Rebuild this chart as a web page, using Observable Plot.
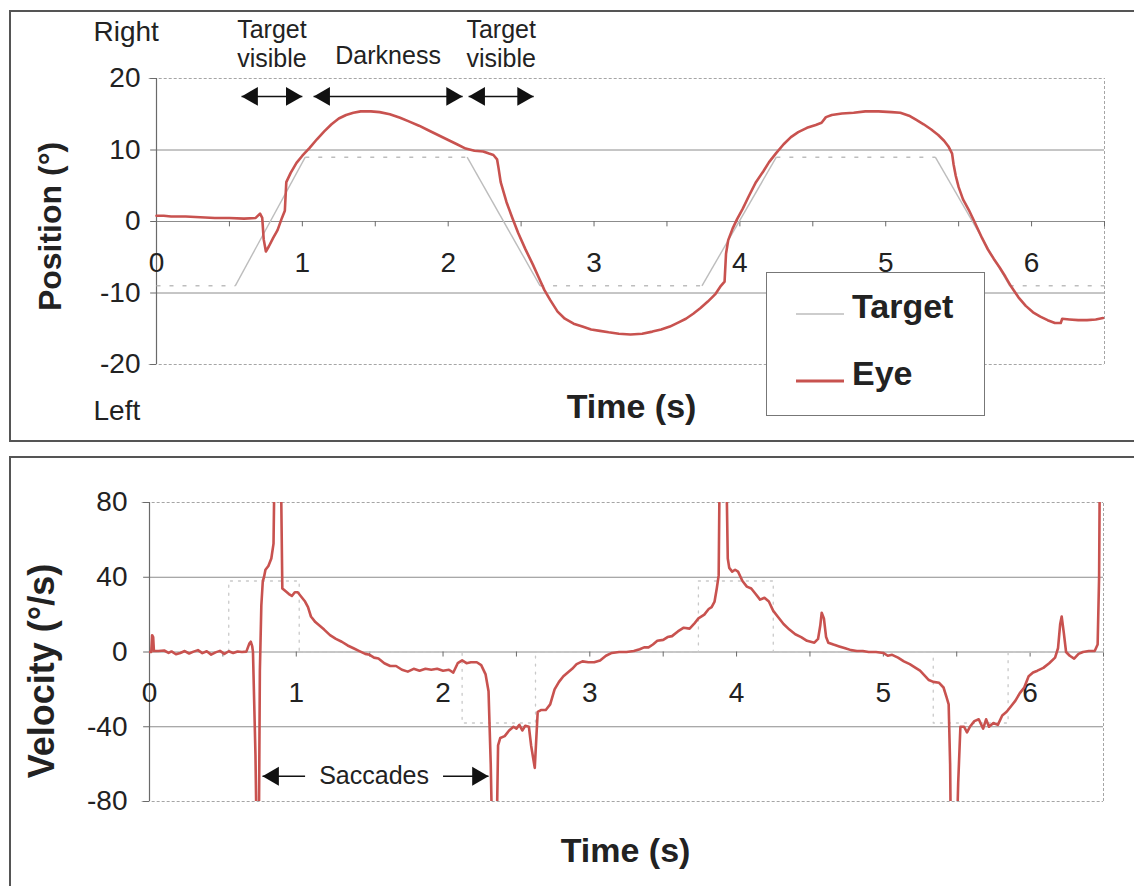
<!DOCTYPE html>
<html><head><meta charset="utf-8">
<script src="https://cdn.jsdelivr.net/npm/d3@7"></script>
<script src="https://cdn.jsdelivr.net/npm/@observablehq/plot@0.6"></script>
<style>
body{margin:0;background:#fff;}
#page{position:relative;width:1134px;height:886px;overflow:hidden;background:#fff;font-family:"Liberation Sans",Arial,sans-serif;color:#222;}
.box{position:absolute;border:2px solid #555;box-sizing:border-box;}
#top,#bot{position:absolute;left:0;}
#top{top:0;}
#bot{top:445px;}
#legend{position:absolute;left:766px;top:272px;width:219px;height:144px;border:1px solid #777;background:#fff;box-sizing:border-box;}
#legend svg{position:absolute;left:0;top:0;}
</style></head><body>
<div id="page">
  <div class="box" style="left:9px;top:10px;width:1140px;height:432px"></div>
  <div class="box" style="left:9px;top:456px;width:1140px;height:450px"></div>
  <div id="top"></div>
  <div id="bot"></div>
  <div id="legend"></div>
</div>
<script>
// ---------- data ----------
const eyeTime = [0.00,0.05,0.10,0.20,0.30,0.40,0.50,0.60,0.68,0.71,0.725,0.735,0.75,0.77,0.80,0.83,0.86,0.88,0.89,0.92,0.96,1.00,1.05,1.10,1.15,1.20,1.25,1.30,1.35,1.40,1.47,1.53,1.60,1.67,1.73,1.80,1.86,1.93,2.00,2.06,2.12,2.18,2.24,2.28,2.31,2.335,2.345,2.36,2.40,2.44,2.48,2.53,2.58,2.62,2.66,2.70,2.75,2.80,2.86,2.92,2.98,3.04,3.10,3.17,3.25,3.33,3.40,3.46,3.52,3.58,3.63,3.68,3.73,3.78,3.83,3.87,3.895,3.905,3.92,3.95,3.98,4.02,4.06,4.11,4.16,4.20,4.25,4.30,4.35,4.40,4.46,4.52,4.56,4.59,4.63,4.70,4.78,4.86,4.95,5.04,5.10,5.16,5.21,5.26,5.31,5.36,5.40,5.43,5.455,5.465,5.48,5.50,5.53,5.57,5.61,5.66,5.70,5.74,5.78,5.82,5.86,5.91,5.96,6.01,6.06,6.11,6.16,6.20,6.21,6.26,6.32,6.38,6.44,6.49];
const eyePosition = [0.8,0.8,0.7,0.7,0.6,0.5,0.5,0.4,0.5,1.1,0.5,-2.5,-4.2,-3.5,-2.3,-1.2,0.5,1.5,5.5,6.8,8.2,9.2,10.3,11.5,12.6,13.6,14.4,14.9,15.2,15.4,15.4,15.3,15.0,14.5,14.0,13.4,12.8,12.1,11.4,10.8,10.2,9.9,9.8,9.5,9.3,8.7,7.5,5.5,2.7,0.5,-1.6,-3.9,-6.0,-7.8,-9.6,-11.0,-12.6,-13.6,-14.3,-14.7,-15.1,-15.3,-15.5,-15.7,-15.8,-15.7,-15.4,-15.1,-14.7,-14.1,-13.6,-12.9,-12.1,-11.2,-10.2,-9.0,-8.4,-4.5,-2.6,-1.0,0.3,1.8,3.5,5.5,7.0,8.3,9.6,10.8,11.8,12.5,13.1,13.5,13.8,14.6,14.9,15.1,15.2,15.4,15.4,15.3,15.2,14.8,14.2,13.6,12.9,12.1,11.3,10.5,9.5,8.0,6.4,4.8,3.1,1.6,-0.1,-2.3,-3.9,-5.2,-6.4,-7.7,-9.1,-10.6,-11.8,-12.7,-13.3,-13.8,-14.2,-14.2,-13.6,-13.7,-13.8,-13.8,-13.7,-13.5];

const targetTime = [0, 0.54, 1.02, 2.13, 2.63, 3.74, 4.25, 5.34, 5.85, 6.5];
const targetPosition = [-9, -9, 9, 9, -9, -9, 9, 9, -9, -9];

const eyeVelTime = [0.00,0.012,0.018,0.025,0.03,0.06,0.10,0.13,0.15,0.18,0.21,0.24,0.27,0.30,0.33,0.36,0.39,0.42,0.45,0.48,0.51,0.54,0.57,0.60,0.63,0.66,0.68,0.69,0.70,0.705,0.722,0.73,0.745,0.752,0.762,0.772,0.78,0.79,0.81,0.83,0.845,0.852,0.895,0.905,0.92,0.95,0.97,0.99,1.01,1.03,1.06,1.08,1.10,1.13,1.16,1.19,1.23,1.27,1.31,1.35,1.39,1.43,1.47,1.50,1.53,1.56,1.60,1.64,1.68,1.72,1.76,1.80,1.84,1.88,1.92,1.96,2.00,2.04,2.07,2.10,2.13,2.16,2.19,2.23,2.26,2.29,2.31,2.325,2.335,2.365,2.375,2.39,2.42,2.45,2.48,2.50,2.52,2.54,2.56,2.585,2.60,2.625,2.645,2.67,2.70,2.73,2.76,2.79,2.82,2.85,2.88,2.91,2.95,2.99,3.03,3.07,3.11,3.15,3.20,3.25,3.30,3.34,3.37,3.40,3.43,3.46,3.50,3.53,3.56,3.60,3.64,3.68,3.71,3.74,3.78,3.81,3.83,3.85,3.865,3.878,3.885,3.93,3.94,3.95,3.97,3.99,4.01,4.04,4.07,4.10,4.13,4.16,4.19,4.22,4.25,4.28,4.32,4.36,4.40,4.44,4.48,4.53,4.555,4.57,4.58,4.595,4.61,4.625,4.66,4.70,4.74,4.78,4.82,4.86,4.90,4.95,5.00,5.03,5.06,5.10,5.14,5.18,5.22,5.25,5.28,5.31,5.34,5.38,5.41,5.43,5.445,5.455,5.46,5.50,5.51,5.525,5.55,5.57,5.59,5.62,5.65,5.68,5.70,5.72,5.75,5.78,5.81,5.84,5.87,5.90,5.93,5.96,5.99,6.02,6.05,6.09,6.13,6.17,6.19,6.205,6.215,6.23,6.245,6.27,6.30,6.33,6.36,6.40,6.44,6.46,6.47,6.475];
const eyeVelocity = [0,0,9,8,0.5,0.5,0.8,-0.5,0.3,-1.2,-0.5,0.5,-0.8,0.2,1.0,-0.6,0.4,-1.4,-0.2,0.6,-1.0,0.4,-0.5,0.3,0,0.2,4.5,5.5,3,0,-55,-100,-100,-10,25,38,40,44,46,50,58,100,100,34,33,31,30,32,32,30,27,24,19,16,14,12,9,7,5.5,3.5,2,0.5,-1,-1.5,-3,-3.5,-6,-7.5,-7.5,-9.5,-10.5,-9,-10,-9,-9.5,-9,-10,-9.5,-11,-6,-4.5,-6,-5.5,-5.5,-7,-12,-21,-60,-100,-100,-50,-46,-45,-42,-40,-41,-39,-42,-39.5,-40,-50,-62,-32,-31,-31,-28,-20,-16,-13,-11,-9,-6.5,-5,-5.5,-5.5,-4.5,-2,-0.5,0,0,0.5,1.5,2.5,2.5,4,6,6.5,8,8.5,11,13,12.5,15,18,20,23,24,27,34,41,100,100,50,45,43,44,43,38,35,34,31,28,29,27,22,19,15,12,9.5,8,6,5,7,14,21,18,8,5,4,3,2,1,0.5,0.5,0,0,-0.5,-2,-1.5,-3,-5,-6.5,-8.5,-10,-12.5,-15,-16,-16.5,-19,-24,-28,-60,-100,-100,-70,-40,-40,-43,-40,-37,-36,-41,-36,-40,-38,-39,-34,-32,-29,-26,-22,-19,-13,-11,-10,-8.5,-6,-3,2,15,19,10,0,-2,-3.5,-1,0,0.5,0.5,4,40,100];

const targetVelTime = [0, 0.54, 0.54, 1.02, 1.02, 2.13, 2.13, 2.63, 2.63, 3.74, 3.74, 4.25, 4.25, 5.34, 5.34, 5.85, 5.85, 6.5];
const targetVelocity = [0, 0, 38, 38, 0, 0, -38, -38, 0, 0, 38, 38, 0, 0, -38, -38, 0, 0];

const timeTicks = [0, 1, 2, 3, 4, 5, 6];
const timeMinorTicks = [0.5, 1, 1.5, 2, 2.5, 3, 3.5, 4, 4.5, 5, 5.5, 6, 6.5];
const posTicks = [20, 10, 0, -10, -20];
const posGrid = [10, 0, -10];
const posEdge = [20, -20];
const velTicks = [80, 40, 0, -40, -80];
const velGrid = [40, 0, -40];
const velEdge = [80, -80];

const phaseStart = [0.583, 1.077, 2.140];
const phaseEnd = [1.0, 2.099, 2.586];
const phaseLabels = ["Target\nvisible", "Darkness", "Target\nvisible"];
const saccadeArrowFrom = [1.06, 2.0];
const saccadeArrowTo = [0.77, 2.31];
const saccadeLabel = ["Saccades"];

// ---------- styles ----------
const ff = '"Liberation Sans", Arial, sans-serif';
const eyeColor = "#c8524f";
const targetColor = "#bdbdbd";
const gridColor = "#8c8c8c";
const edgeColor = "#a5a5a5";
const axisColor = "#6a6a6a";
const textColor = "#222";

const eyePos = eyeTime.map((t, i) => ({t, v: eyePosition[i]}));
const tgtPos = targetTime.map((t, i) => ({t, v: targetPosition[i]}));
const tgtSegs = d3.pairs(tgtPos).map(([a, b]) => ({x1: a.t, y1: a.v, x2: b.t, y2: b.v, flat: a.v === b.v}));
const eyeVel = eyeVelTime.map((t, i) => ({t, v: eyeVelocity[i]}));
const tgtVel = targetVelTime.map((t, i) => ({t, v: targetVelocity[i]}));

function doubleArrows(from, to, y) {
  return [
    Plot.link(from.map((d, i) => i), {x1: i => from[i], x2: i => to[i], y1: y, y2: y, stroke: "#111", strokeWidth: 1.5}),
    Plot.dot(from, {x: d => d, y, symbol: "triangle", r: 7, fill: "#111", stroke: "none", rotate: -90, dx: 10.9}),
    Plot.dot(to, {x: d => d, y, symbol: "triangle", r: 7, fill: "#111", stroke: "none", rotate: 90, dx: -10.9})
  ];
}

const topPlot = Plot.plot({
  width: 1134, height: 445,
  marginLeft: 156, marginRight: 30, marginTop: 78, marginBottom: 81,
  x: {domain: [0, 6.5], axis: null},
  y: {domain: [-20, 20], axis: null},
  style: {fontFamily: ff, color: textColor, background: "transparent", overflow: "visible"},
  marks: [
    Plot.ruleY(posGrid, {x1: 0, x2: 6.5, stroke: gridColor, strokeWidth: 1}),
    Plot.ruleY(posEdge, {x1: -0.05, x2: 6.5, stroke: edgeColor, strokeDasharray: "3,2"}),
    Plot.ruleX([6.5], {y1: -20, y2: 20, stroke: edgeColor, strokeDasharray: "3,2"}),
    Plot.ruleX([0], {y1: -20, y2: 20, stroke: axisColor, strokeWidth: 1.2}),
    Plot.ruleY(posTicks, {x1: -0.04, x2: 0, stroke: axisColor}),
    Plot.ruleX(timeMinorTicks, {y1: 0, y2: -0.75, stroke: axisColor}),
    Plot.text(posTicks, {x: 0, y: d => d, text: d => String(d), textAnchor: "end", dx: -16, fontSize: 28, fill: textColor}),
    Plot.text(timeTicks, {x: d => d, y: 0, text: d => String(d), dy: 42, fontSize: 28, fill: textColor}),
    Plot.link(tgtSegs.filter(d => d.flat), {x1: "x1", y1: "y1", x2: "x2", y2: "y2", stroke: targetColor, strokeWidth: 1.5, strokeDasharray: "4,9"}),
    Plot.link(tgtSegs.filter(d => !d.flat), {x1: "x1", y1: "y1", x2: "x2", y2: "y2", stroke: targetColor, strokeWidth: 1.4}),
    Plot.line(eyePos, {x: "t", y: "v", stroke: eyeColor, strokeWidth: 2.6}),
    ...doubleArrows(phaseStart, phaseEnd, 17.5),
    Plot.text([0, 2], {x: i => (phaseStart[i] + phaseEnd[i]) / 2, y: 20, text: i => phaseLabels[i], dy: -35, lineHeight: 1.16, lineAnchor: "middle", fontSize: 25, fill: textColor}),
    Plot.text([1], {x: i => (phaseStart[i] + phaseEnd[i]) / 2, y: 20, text: i => phaseLabels[i], dy: -23, lineAnchor: "middle", fontSize: 25, fill: textColor}),
    Plot.text(["Right"], {frameAnchor: "top-left", dx: -63, dy: -46, textAnchor: "start", lineAnchor: "middle", fontSize: 28, fill: textColor}),
    Plot.text(["Left"], {frameAnchor: "bottom-left", dx: -63, dy: 47, textAnchor: "start", lineAnchor: "middle", fontSize: 28, fill: textColor}),
    Plot.text(["Position (°)"], {frameAnchor: "left", rotate: -90, dx: -106, dy: 5, textAnchor: "middle", lineAnchor: "middle", fontSize: 32, fontWeight: "bold", fill: textColor}),
    Plot.text(["Time (s)"], {frameAnchor: "bottom", dx: 1, dy: 43, textAnchor: "middle", lineAnchor: "middle", fontSize: 34, fontWeight: "bold", fill: textColor})
  ]
});
document.getElementById("top").appendChild(topPlot);

const botPlot = Plot.plot({
  width: 1134, height: 441,
  marginLeft: 149, marginRight: 31, marginTop: 57, marginBottom: 85,
  x: {domain: [0, 6.5], axis: null},
  y: {domain: [-80, 80], axis: null},
  style: {fontFamily: ff, color: textColor, background: "transparent", overflow: "visible"},
  marks: [
    Plot.ruleY(velGrid, {x1: 0, x2: 6.5, stroke: gridColor, strokeWidth: 1}),
    Plot.ruleY(velEdge, {x1: -0.05, x2: 6.5, stroke: edgeColor, strokeDasharray: "3,2"}),
    Plot.ruleX([6.5], {y1: -80, y2: 80, stroke: edgeColor, strokeDasharray: "3,2"}),
    Plot.ruleX([0], {y1: -80, y2: 80, stroke: axisColor, strokeWidth: 1.2}),
    Plot.ruleY(velTicks, {x1: -0.04, x2: 0, stroke: axisColor}),
    Plot.ruleX(timeMinorTicks, {y1: 0, y2: -2.7, stroke: axisColor}),
    Plot.text(velTicks, {x: 0, y: d => d, text: d => String(d), textAnchor: "end", dx: -22, fontSize: 28, fill: textColor}),
    Plot.text(timeTicks, {x: d => d, y: 0, text: d => String(d), dy: 41, fontSize: 28, fill: textColor}),
    Plot.line(tgtVel, {x: "t", y: "v", stroke: "#c9c9c9", strokeWidth: 1.3, strokeDasharray: "2,6"}),
    Plot.line(eyeVel, {x: "t", y: "v", stroke: eyeColor, strokeWidth: 2.6, clip: true}),
    Plot.link([0, 1], {x1: i => saccadeArrowFrom[i], x2: i => saccadeArrowTo[i], y1: -66.5, y2: -66.5, stroke: "#111", strokeWidth: 1.5}),
    Plot.dot([0], {x: i => saccadeArrowTo[i], y: -66.5, symbol: "triangle", r: 7, fill: "#111", stroke: "none", rotate: -90, dx: 10.9}),
    Plot.dot([1], {x: i => saccadeArrowTo[i], y: -66.5, symbol: "triangle", r: 7, fill: "#111", stroke: "none", rotate: 90, dx: -10.9}),
    Plot.text(saccadeLabel, {x: (saccadeArrowFrom[0] + saccadeArrowFrom[1]) / 2, y: -66.5, text: d => d, fontSize: 25, fill: textColor, stroke: "#fff", strokeWidth: 8}),
    Plot.text(["Velocity (°/s)"], {frameAnchor: "left", rotate: -90, dx: -107, dy: 19, textAnchor: "middle", lineAnchor: "middle", fontSize: 36, fontWeight: "bold", fill: textColor}),
    Plot.text(["Time (s)"], {frameAnchor: "bottom", dx: -1, dy: 50, textAnchor: "middle", lineAnchor: "middle", fontSize: 34, fontWeight: "bold", fill: textColor})
  ]
});
document.getElementById("bot").appendChild(botPlot);

// ---------- legend ----------
const legendItems = [
  {label: "Target", color: targetColor, width: 1.5},
  {label: "Eye", color: eyeColor, width: 3}
];
const lg = d3.select("#legend").append("svg").attr("width", 219).attr("height", 144);
legendItems.forEach((d, i) => {
  const cy = 41 + i * 67;
  lg.append("line").attr("x1", 29).attr("x2", 77).attr("y1", cy).attr("y2", cy)
    .attr("stroke", d.color).attr("stroke-width", d.width);
  lg.append("text").attr("x", 85).attr("y", cy + 4).text(d.label)
    .attr("font-family", ff).attr("font-size", 34).attr("font-weight", "bold").attr("fill", textColor);
});
</script>
</body></html>
